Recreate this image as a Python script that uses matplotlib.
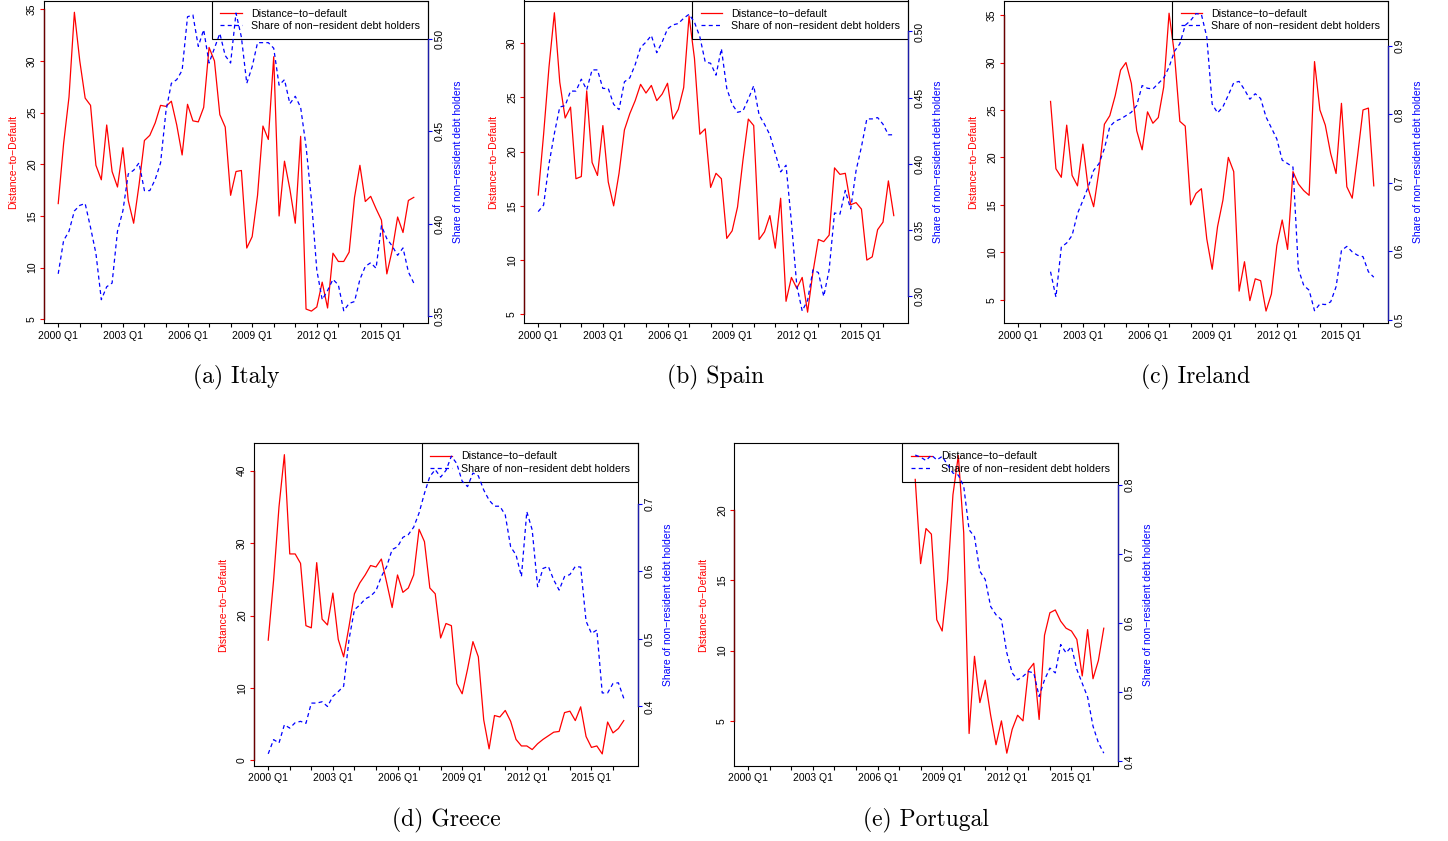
import numpy as np
import matplotlib
matplotlib.use("Agg")
import matplotlib.pyplot as plt

plt.rcParams['font.family'] = ['Liberation Sans', 'DejaVu Sans']
plt.rcParams['axes.unicode_minus'] = True

# ---------------- data (quarterly, 2000 Q1 .. 2016 Q3) ----------------
n_quarters = 67
quarters = [f"{2000 + i // 4} Q{i % 4 + 1}" for i in range(n_quarters)]
tick_years = list(range(2000, 2017))
labeled_years = [2000, 2003, 2006, 2009, 2012, 2015]

italy_dd = [16.2, 22.0, 26.5, 34.7, 30.0, 26.4, 25.7, 19.9, 18.5, 23.8,
            19.3, 17.8, 21.6, 16.5, 14.3, 18.0, 22.3, 22.8, 24.0, 25.7,
            25.6, 26.1, 23.8, 20.9, 25.8, 24.2, 24.1, 25.5, 31.3, 30.0,
            24.8, 23.6, 17.0, 19.3, 19.4, 11.9, 13.0, 17.0, 23.7, 22.4,
            30.4, 15.0, 20.3, 17.6, 14.3, 22.7, 6.0, 5.8, 6.2, 8.6,
            6.1, 11.4, 10.6, 10.6, 11.5, 16.8, 19.9, 16.4, 16.9, 15.7,
            14.6, 9.4, 11.7, 14.9, 13.4, 16.5, 16.8]
italy_share = [0.373, 0.391, 0.396, 0.407, 0.410, 0.411, 0.398, 0.384, 0.359, 0.366,
               0.368, 0.396, 0.407, 0.427, 0.429, 0.433, 0.418, 0.418, 0.424, 0.433,
               0.461, 0.476, 0.478, 0.483, 0.512, 0.513, 0.496, 0.505, 0.487, 0.495,
               0.503, 0.491, 0.487, 0.514, 0.501, 0.476, 0.485, 0.498, 0.498, 0.498,
               0.495, 0.475, 0.478, 0.465, 0.469, 0.463, 0.442, 0.413, 0.375, 0.359,
               0.364, 0.370, 0.367, 0.353, 0.357, 0.358, 0.370, 0.377, 0.379, 0.376,
               0.399, 0.392, 0.388, 0.383, 0.387, 0.374, 0.368]

spain_dd = [16.0, 21.6, 27.8, 32.8, 26.4, 23.1, 24.1, 17.5, 17.7, 25.6,
            19.0, 17.8, 22.4, 17.2, 15.0, 18.0, 22.0, 23.5, 24.7, 26.2,
            25.4, 26.1, 24.7, 25.3, 26.3, 23.0, 23.9, 25.9, 32.5, 28.6,
            21.6, 22.1, 16.7, 18.0, 17.5, 12.0, 12.7, 14.9, 19.2, 23.0,
            22.4, 11.9, 12.6, 14.1, 11.1, 15.7, 6.2, 8.4, 7.4, 8.4,
            5.2, 8.9, 11.9, 11.7, 12.3, 18.5, 17.9, 18.0, 15.1, 15.3,
            14.7, 10.0, 10.3, 12.8, 13.5, 17.3, 14.1]
spain_share = [0.364, 0.369, 0.400, 0.423, 0.443, 0.444, 0.455, 0.455, 0.464, 0.456,
               0.471, 0.471, 0.457, 0.457, 0.445, 0.441, 0.462, 0.465, 0.475, 0.488,
               0.492, 0.497, 0.484, 0.492, 0.502, 0.505, 0.506, 0.510, 0.513, 0.507,
               0.496, 0.477, 0.476, 0.467, 0.487, 0.457, 0.445, 0.439, 0.440, 0.449,
               0.459, 0.437, 0.430, 0.422, 0.408, 0.394, 0.399, 0.356, 0.308, 0.289,
               0.297, 0.320, 0.318, 0.300, 0.320, 0.363, 0.362, 0.380, 0.366, 0.395,
               0.413, 0.434, 0.434, 0.435, 0.430, 0.422, 0.422]

ireland_dd = [None] * 6 + [
    25.9, 18.8, 17.9, 23.4, 18.1, 17.0, 21.4, 16.7, 14.8, 18.6,
    23.5, 24.4, 26.5, 29.2, 30.0, 27.8, 22.8, 20.8, 24.8, 23.6,
    24.2, 27.4, 35.2, 30.9, 23.8, 23.3, 15.0, 16.2, 16.7, 11.4,
    8.2, 12.7, 15.5, 20.0, 18.5, 5.9, 9.0, 4.9, 7.2, 7.0,
    3.8, 5.6, 10.7, 13.4, 10.3, 18.5, 17.2, 16.5, 16.0, 30.1,
    25.0, 23.4, 20.4, 18.3, 25.7, 16.9, 15.7, 20.2, 25.0, 25.2,
    17.0]
ireland_share = [None] * 6 + [
    0.570, 0.533, 0.606, 0.612, 0.623, 0.655, 0.674, 0.694, 0.718, 0.728,
    0.750, 0.782, 0.790, 0.793, 0.798, 0.803, 0.813, 0.842, 0.838, 0.837,
    0.845, 0.853, 0.869, 0.892, 0.903, 0.930, 0.937, 0.947, 0.946, 0.913,
    0.815, 0.802, 0.811, 0.828, 0.846, 0.848, 0.836, 0.822, 0.830, 0.823,
    0.796, 0.780, 0.764, 0.733, 0.728, 0.723, 0.574, 0.550, 0.543, 0.513,
    0.523, 0.522, 0.526, 0.548, 0.601, 0.607, 0.599, 0.594, 0.592, 0.570,
    0.562]

greece_dd = [16.6, 24.9, 35.0, 42.2, 28.5, 28.5, 27.2, 18.6, 18.3, 27.3,
             19.5, 18.7, 23.1, 16.7, 14.3, 18.5, 23.0, 24.5, 25.6, 26.9,
             26.7, 27.8, 24.5, 21.1, 25.6, 23.2, 23.8, 25.6, 31.9, 30.2,
             23.8, 23.0, 16.9, 18.9, 18.6, 10.6, 9.2, 12.6, 16.4, 14.3,
             5.6, 1.6, 6.2, 6.0, 6.9, 5.4, 2.9, 2.0, 2.0, 1.5,
             2.3, 2.9, 3.4, 3.9, 4.0, 6.6, 6.8, 5.5, 7.4, 3.3,
             1.8, 2.0, 0.9, 5.3, 3.8, 4.4, 5.5]
greece_share = [0.330, 0.351, 0.346, 0.373, 0.368, 0.376, 0.378, 0.375, 0.405, 0.405,
                0.407, 0.400, 0.415, 0.422, 0.430, 0.499, 0.543, 0.550, 0.559, 0.563,
                0.571, 0.592, 0.607, 0.632, 0.636, 0.650, 0.654, 0.665, 0.686, 0.715,
                0.740, 0.750, 0.739, 0.749, 0.770, 0.759, 0.733, 0.725, 0.745, 0.741,
                0.720, 0.705, 0.696, 0.696, 0.683, 0.636, 0.624, 0.592, 0.688, 0.661,
                0.577, 0.604, 0.607, 0.587, 0.572, 0.592, 0.595, 0.607, 0.606, 0.526,
                0.508, 0.513, 0.420, 0.420, 0.434, 0.435, 0.412]

portugal_dd = [None] * 31 + [
    22.2, 16.2, 18.7, 18.3, 12.2, 11.4, 15.0, 21.1, 23.9, 18.4,
    4.1, 9.6, 6.3, 7.9, 5.4, 3.3, 5.0, 2.7, 4.4, 5.4,
    5.0, 8.6, 9.1, 5.1, 11.1, 12.7, 12.9, 12.1, 11.6, 11.4,
    10.8, 8.2, 11.5, 8.0, 9.3, 11.6]
portugal_share = [None] * 31 + [
    0.843, 0.840, 0.835, 0.843, 0.836, 0.841, 0.829, 0.817, 0.814, 0.798,
    0.735, 0.725, 0.675, 0.663, 0.624, 0.612, 0.605, 0.557, 0.528, 0.518,
    0.523, 0.530, 0.528, 0.494, 0.518, 0.535, 0.528, 0.569, 0.557, 0.566,
    0.533, 0.513, 0.493, 0.451, 0.427, 0.412]

# ---------------- layout ----------------
W, H = 1448, 841
fig = plt.figure(figsize=(W / 100, H / 100), dpi=100)
FS = 7.5
LFS = 7.7
RED = '#ff0000'
BLUE = '#0000ff'


def to_arr(v):
    return np.array([np.nan if a is None else a for a in v], dtype=float)


def panel(px_left, px_top, dd, share, ylim_l, ylim_r, lticks, rticks, rfmt, caption, cap_y):
    pw, ph = 384, 322.5
    ax = fig.add_axes([px_left / W, 1 - (px_top + ph) / H, pw / W, ph / H])
    ax2 = ax.twinx()
    x = np.arange(n_quarters)
    l1, = ax.plot(x, to_arr(dd), color=RED, lw=0.9, zorder=3)
    l2, = ax2.plot(x, to_arr(share), color=BLUE, lw=0.9, ls=(0, (3.2, 2.6)), zorder=3)
    ax.set_xlim(-2.64, 68.64)
    ax.set_ylim(*ylim_l)
    ax2.set_ylim(*ylim_r)

    for a in (ax, ax2):
        for s in a.spines.values():
            s.set_color('black')
            s.set_linewidth(0.8)
    for s in ax2.spines.values():
        s.set_visible(False)

    # x axis
    xpos = [(y - 2000) * 4 for y in tick_years]
    xlab = [quarters[p] if y in labeled_years else '' for p, y in zip(xpos, tick_years)]
    ax.set_xticks(xpos, xlab)
    ax.tick_params(axis='x', direction='out', length=3, width=0.8, pad=2.5,
                   labelsize=FS, color='black')

    # left axis (red)
    ax.set_yticks(lticks, [str(t) for t in lticks], rotation=90, va='center')
    ax.tick_params(axis='y', direction='out', length=3, width=0.8, pad=2,
                   labelsize=FS, color=RED, labelcolor='black')
    ax.plot([0, 0], [lticks[0], lticks[-1]], transform=ax.get_yaxis_transform(),
            color='#6a0000', lw=1.0, clip_on=False, zorder=4)
    ax.set_ylabel('Distance\u2212to\u2212Default', color=RED, fontsize=FS)
    ax.yaxis.set_label_coords(-26 / pw, 0.5)

    # right axis (blue)
    ax2.set_yticks(rticks, [rfmt.format(t) for t in rticks], rotation=90, va='center')
    ax2.tick_params(axis='y', direction='out', length=3, width=0.8, pad=2,
                    labelsize=FS, color=BLUE, labelcolor='black')
    ax2.plot([1, 1], [rticks[0], rticks[-1]], transform=ax2.get_yaxis_transform(),
             color='#1c1ca8', lw=1.0, clip_on=False, zorder=4)
    ax2.set_ylabel('Share of non\u2212resident debt holders', color=BLUE, fontsize=FS)
    ax2.yaxis.set_label_coords(1 + 25 / pw, 0.5)

    leg = ax.legend([l1, l2], ['Distance\u2212to\u2212default',
                               'Share of non\u2212resident debt holders'],
                    loc='upper right', bbox_to_anchor=(1, 1), borderaxespad=0,
                    fontsize=LFS, fancybox=False, framealpha=1, handlelength=2.0,
                    handletextpad=0.85, labelspacing=0.25, borderpad=0.75)
    leg.get_frame().set_facecolor('none')
    leg.get_frame().set_edgecolor('black')
    leg.get_frame().set_linewidth(0.8)

    fig.text((px_left + pw / 2) / W, 1 - cap_y / H, caption, fontfamily='cmr10',
             fontsize=17, ha='center', va='center')


panel(44, 0.5, italy_dd, italy_share, (4.65, 35.84), (0.3464, 0.5208),
      [5, 10, 15, 20, 25, 30, 35], [0.35, 0.40, 0.45, 0.50], '{:.2f}', '(a) Italy', 377)
panel(524, 0.5, spain_dd, spain_share, (4.20, 33.93), (0.2799, 0.5234),
      [5, 10, 15, 20, 25, 30], [0.30, 0.35, 0.40, 0.45, 0.50], '{:.2f}', '(b) Spain', 377)
panel(1004, 0.5, ireland_dd, ireland_share, (2.54, 36.54), (0.4951, 0.9662),
      [5, 10, 15, 20, 25, 30, 35], [0.5, 0.6, 0.7, 0.8, 0.9], '{:.1f}', '(c) Ireland', 377)
panel(254, 443.3, greece_dd, greece_share, (-0.74, 43.77), (0.3123, 0.789),
      [0, 10, 20, 30, 40], [0.4, 0.5, 0.6, 0.7], '{:.1f}', '(d) Greece', 820)
panel(734, 443.3, portugal_dd, portugal_share, (1.80, 24.77), (0.3937, 0.860),
      [5, 10, 15, 20], [0.4, 0.5, 0.6, 0.7, 0.8], '{:.1f}', '(e) Portugal', 820)

fig.savefig('out.png', dpi=100)
